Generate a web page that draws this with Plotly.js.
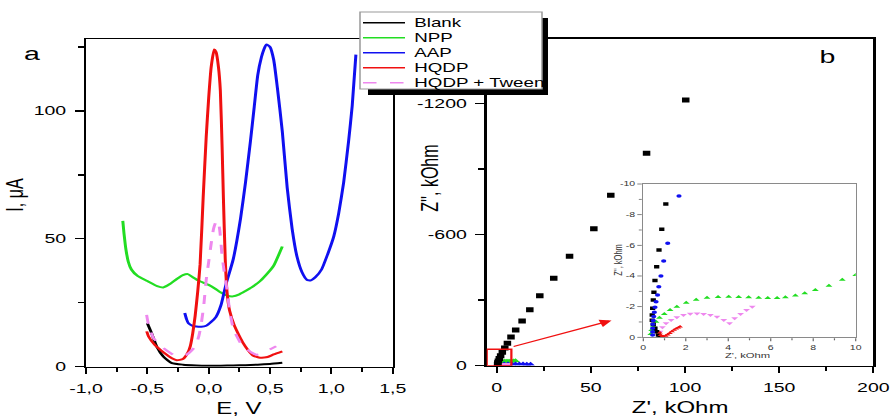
<!DOCTYPE html>
<html><head><meta charset="utf-8">
<script src="https://cdn.plot.ly/plotly-3.0.1.min.js"></script>
<style>
html,body{margin:0;padding:0;background:#fff;overflow:hidden;width:890px;height:418px}
#wrap{width:890px;height:418px;overflow:hidden}
#chart{width:593px;height:418px;transform:scaleX(1.50084);transform-origin:0 0}
</style>
</head><body><div id="wrap"><div id="chart"></div></div>
<script>
// ---------- DATA: panel a (voltammograms) ----------
const seriesNames = ["Blank", "NPP", "AAP", "HQDP", "HQDP + Tween"];

const eBlank = [-0.50,-0.465,-0.424,-0.37,-0.30,-0.21,-0.10,0.0,0.1,0.2,0.3,0.4,0.5,0.6];
const iBlank = [17,13.1,7.9,4.0,1.4,0.8,0.5,0.4,0.4,0.5,0.6,0.8,1.1,1.5];

const eNpp = [-0.70,-0.69,-0.675,-0.655,-0.63,-0.58,-0.50,-0.42,-0.37,-0.32,-0.26,-0.21,-0.17,-0.13,-0.08,0.0,0.05,0.10,0.15,0.20,0.25,0.30,0.35,0.42,0.48,0.53,0.60];
const iNpp = [57,52,46,41,38,35.5,33.5,31.5,31,32.2,34.3,35.8,36.2,35,33.6,32,30.6,29,27.8,27.5,28.3,29.6,31,33.5,36.5,39.5,47];

const eAap = [-0.195,-0.18,-0.165,-0.13,-0.10,-0.06,-0.02,0.02,0.06,0.10,0.14,0.20,0.26,0.30,0.34,0.37,0.40,0.43,0.45,0.47,0.50,0.53,0.56,0.60,0.64,0.68,0.72,0.76,0.80,0.83,0.87,0.92,0.97,1.02,1.06,1.10,1.14,1.17,1.20];
const iAap = [21,18.5,17,16,15.7,15.6,16,17.5,19.5,24,32,42,58,72,88,101,114,121,124,126,125,120,109,92,70,54,43,37,34,33.7,35,38,44,51,60,72,88,102,122];

const eHqdp = [-0.505,-0.49,-0.44,-0.36,-0.30,-0.26,-0.21,-0.17,-0.15,-0.13,-0.11,-0.09,-0.07,-0.045,-0.02,0.0,0.02,0.045,0.06,0.08,0.095,0.11,0.12,0.135,0.15,0.17,0.21,0.25,0.28,0.32,0.36,0.42,0.48,0.53,0.60];
const iHqdp = [13.8,11.8,8.6,5.3,3.3,2.5,3.0,5.5,8,13,20,29,40,66,90,105,117,124,123,117,108,85,66,42,29,22,16,12,9.3,6.5,4.4,3.5,3.8,4.8,6.0];

const eTween = [-0.506,-0.49,-0.45,-0.37,-0.30,-0.26,-0.18,-0.11,-0.08,-0.06,-0.04,-0.02,0.0,0.02,0.04,0.06,0.075,0.09,0.11,0.13,0.15,0.17,0.20,0.23,0.27,0.31,0.35,0.39,0.43,0.47,0.51,0.55];
const iTween = [20.3,16.4,11.2,7.3,5,4,4.7,7.9,12,17,24,34,41,48,54,56.7,57,53.5,43,36,30,22.2,15,11.8,8.5,6.9,5.5,4.7,5,6,7,8];

// ---------- DATA: panel b (Nyquist, main view) ----------
const zBlankRe = [100.4,79.6,60.6,51.6,38.7,30.3,22.9,17.6,13.5,10.1,7.6,5.7,4.3,3.0,2.1,1.4,0.9,0.6,0.5];
const zBlankIm = [-1215,-971,-779,-626,-501,-400,-320,-256,-204,-163,-131,-103,-81,-61,-46,-33,-22,-13,-6];
const zNppRe = [0.5,1,1.5,2,3,4,5,6,7,8,9,10];
const zNppIm = [-4,-9,-13,-16,-19,-20,-20,-20,-20,-20,-21,-23];
const zAapRe = [0.5,1,2,4,6,8,10,12,14,16,18];
const zAapIm = [-3,-5,-7,-8,-8,-8,-8,-8,-8,-7,-7];
const zHqdpRe = [0.8,1.0,1.3,1.7];
const zHqdpIm = [-0.3,-0.1,-0.4,-0.7];
const zTweenRe = [0.5,1,2,3,4,5,6];
const zTweenIm = [-2,-4,-6,-6,-5,-6,-7];

// ---------- DATA: panel b inset (0–10 kOhm) ----------
const inBlankRe = [1.06,0.87,0.74,0.63,0.55,0.50,0.47,0.44,0.42,0.42,0.47,0.55,0.63,0.71,0.79];
const inBlankIm = [-8.7,-7.05,-5.7,-4.6,-3.7,-2.94,-2.43,-1.89,-1.45,-1.12,-0.85,-0.59,-0.37,-0.15,-0.02];
const inNppRe = [0.35,0.39,0.47,0.60,0.76,0.99,1.26,1.58,2.02,2.49,3.0,3.52,4.02,4.49,4.96,5.43,5.86,6.3,6.69,7.16,7.6,8.1,8.74,9.37,10.0];
const inNppIm = [-0.22,-0.48,-0.76,-1.02,-1.28,-1.52,-1.78,-2.0,-2.26,-2.45,-2.58,-2.63,-2.65,-2.63,-2.61,-2.58,-2.56,-2.56,-2.61,-2.72,-2.87,-3.08,-3.37,-3.75,-4.07];
const inAapRe = [0.44,0.44,0.44,0.45,0.47,0.49,0.52,0.55,0.60,0.67,0.73,0.83,0.96,1.15,1.68];
const inAapIm = [-0.15,-0.37,-0.59,-0.85,-1.09,-1.35,-1.63,-1.96,-2.32,-2.76,-3.3,-4.0,-4.98,-6.13,-9.22];
const inHqdpRe = [0.78,0.82,0.88,0.95,1.05,1.15,1.25,1.35,1.45,1.55,1.65,1.73];
const inHqdpIm = [-0.3,-0.15,-0.05,-0.05,-0.1,-0.18,-0.28,-0.38,-0.48,-0.56,-0.63,-0.69];
const inTweenRe = [0.71,0.79,0.9,1.07,1.31,1.58,1.89,2.21,2.53,2.84,3.16,3.47,3.79,4.06,4.3,4.58,4.86,5.13];
const inTweenIm = [-0.15,-0.37,-0.65,-0.91,-1.13,-1.3,-1.45,-1.54,-1.56,-1.52,-1.45,-1.34,-1.13,-0.91,-1.24,-1.52,-1.78,-2.0];

// ---------- tick labels ----------
const eTickVals = [-1.0,-0.5,0.0,0.5,1.0,1.5];
const eTickText = ["-1,0","-0,5","0,0","0,5","1,0","1,5"];
const iTickVals = [0,50,100];
const iTickText = ["0","50","100"];
const zReTickVals = [0,50,100,150,200];
const zReTickText = ["0","50","100","150","200"];
const zImTickVals = [0,-600,-1200];
const zImTickText = ["0","-600","-1200"];
const inReTickVals = [0,2,4,6,8,10];
const inReTickText = ["0","2","4","6","8","10"];
const inImTickVals = [0,-2,-4,-6,-8,-10];
const inImTickText = ["0","-2","-4","-6","-8","-10"];

// ---------- styling ----------
const FONT = "Liberation Sans, Arial, sans-serif";
const colors = ["#000000", "#22dd22", "#1010f0", "#f01010", "#ee88ee"];
const W = 593, H = 418, REFW = 890;
const px = v => v / REFW;
const py = v => 1 - v / H;

const traces = [];
// panel a lines
const aX = [eBlank, eNpp, eAap, eHqdp, eTween];
const aY = [iBlank, iNpp, iAap, iHqdp, iTween];
for (let k = 0; k < 5; k++) {
  traces.push({
    x: aX[k], y: aY[k], type: "scatter", mode: "lines", name: seriesNames[k],
    xaxis: "x", yaxis: "y", showlegend: false, line: {color: colors[k], width: 2, shape: "spline", smoothing: 0.5, dash: k === 4 ? "dash" : "solid"}
  });
}
// panel b main markers (draw black last)
const bX = [zBlankRe, zNppRe, zAapRe, zHqdpRe, zTweenRe];
const bY = [zBlankIm, zNppIm, zAapIm, zHqdpIm, zTweenIm];
const bSym = ["square", "triangle-up", "triangle-up", "circle", "triangle-down"];
const bSize = [5, 5, 5, 3, 5];
for (const k of [1, 2, 4, 3, 0]) {
  traces.push({
    x: bX[k], y: bY[k], type: "scatter", mode: "markers", name: seriesNames[k],
    xaxis: "x2", yaxis: "y2", showlegend: false, cliponaxis: true,
    marker: {color: colors[k], symbol: bSym[k], size: bSize[k]}
  });
}
// inset markers
const cX = [inBlankRe, inNppRe, inAapRe, inHqdpRe, inTweenRe];
const cY = [inBlankIm, inNppIm, inAapIm, inHqdpIm, inTweenIm];
const cSym = ["square", "triangle-up", "circle", "triangle-up", "triangle-down"];
const cSize = [3.5, 4, 3.5, 3.5, 4];
for (const k of [1, 4, 0, 2, 3]) {
  traces.push({
    x: cX[k], y: cY[k], type: "scatter", mode: "markers", name: seriesNames[k],
    xaxis: "x3", yaxis: "y3", showlegend: false,
    marker: {color: colors[k], symbol: cSym[k], size: cSize[k]}
  });
}

const axBase = {
  showline: true, linecolor: "#000", linewidth: 1.6, mirror: true,
  ticks: "outside", ticklen: 6, tickwidth: 1.3, tickcolor: "#000",
  showgrid: false, zeroline: false, fixedrange: true,
  tickfont: {family: FONT, size: 13, color: "#000"}, ticklabelstandoff: 3
};
const insetBase = {
  showline: true, linecolor: "#8a8a8a", linewidth: 1, mirror: true,
  ticks: "outside", ticklen: 3, tickwidth: 0.8, tickcolor: "#666",
  showgrid: false, zeroline: false, fixedrange: true,
  tickfont: {family: FONT, size: 7, color: "#333"}
};

function txt(text, x, y, size, extra) {
  return Object.assign({text: text, xref: "paper", yref: "paper", x: px(x), y: py(y),
    xanchor: "center", yanchor: "middle", showarrow: false,
    font: {size: size, family: FONT, color: "#000"}}, extra || {});
}

const layout = {
  width: W, height: H, margin: {l: 0, r: 0, t: 0, b: 0},
  paper_bgcolor: "#fff", plot_bgcolor: "#fff", showlegend: false,
  font: {family: FONT, color: "#000"},
  xaxis: Object.assign({}, axBase, {domain: [px(86), px(392.7)], anchor: "y", range: [-1, 1.5],
    tickmode: "array", tickvals: eTickVals, ticktext: eTickText,
    minor: {ticks: "outside", ticklen: 4, tickwidth: 1.3, tickcolor: "#000", tickvals: [-0.75,-0.25,0.25,0.75,1.25], showgrid: false}}),
  yaxis: Object.assign({}, axBase, {domain: [py(366.7), py(39.3)], anchor: "x", range: [0, 128],
    tickmode: "array", tickvals: iTickVals, ticktext: iTickText,
    minor: {ticks: "outside", ticklen: 4, tickwidth: 1.3, tickcolor: "#000", tickvals: [25,75,125], showgrid: false}}),
  xaxis2: Object.assign({}, axBase, {domain: [px(486.7), px(873.3)], anchor: "y2", range: [-5.3, 200],
    tickmode: "array", tickvals: zReTickVals, ticktext: zReTickText,
    minor: {ticks: "outside", ticklen: 4, tickwidth: 1.3, tickcolor: "#000", tickvals: [25,75,125,175], showgrid: false}}),
  yaxis2: Object.assign({}, axBase, {domain: [py(365.7), py(39)], anchor: "x2", range: [0, -1494],
    tickmode: "array", tickvals: zImTickVals, ticktext: zImTickText,
    minor: {ticks: "outside", ticklen: 4, tickwidth: 1.3, tickcolor: "#000", tickvals: [-300,-900], showgrid: false}}),
  xaxis3: Object.assign({}, insetBase, {domain: [px(643.3), px(855.7)], anchor: "y3", range: [0, 10],
    tickmode: "array", tickvals: inReTickVals, ticktext: inReTickText,
    minor: {ticks: "outside", ticklen: 2, tickwidth: 0.8, tickcolor: "#666", tickvals: [1,3,5,7,9], showgrid: false}}),
  yaxis3: Object.assign({}, insetBase, {domain: [py(337.3), py(184)], anchor: "x3", range: [0, -10],
    tickmode: "array", tickvals: inImTickVals, ticktext: inImTickText,
    minor: {ticks: "outside", ticklen: 2, tickwidth: 0.8, tickcolor: "#666", tickvals: [-1,-3,-5,-7,-9], showgrid: false}}),
  shapes: [
    {type: "rect", xref: "x2", yref: "y2", x0: -5.3, x1: 7.8, y0: 0, y1: -75, line: {color: "#f01010", width: 1.5}, layer: "above"},
    {type: "rect", xref: "paper", yref: "paper", x0: px(368), x1: px(548), y0: py(95), y1: py(18), fillcolor: "#000", line: {width: 0}, layer: "above"},
    {type: "rect", xref: "paper", yref: "paper", x0: px(360), x1: px(542), y0: py(89), y1: py(12), fillcolor: "#fff", line: {color: "#999", width: 1}, layer: "above"}
  ],
  annotations: [
    txt("a", 33, 53, 19),
    txt("b", 828, 57, 19),
    txt("I, μA", 16, 195, 16, {textangle: -90}),
    txt("E, V", 239, 408, 16),
    txt("Z'', kOhm", 429, 178, 16, {textangle: -90}),
    txt("Z', kOhm", 680, 407, 16),
    txt("Z', kOhm", 748, 355, 7.5, {font: {size: 7.5, family: FONT, color: "#333"}}),
    txt("Z'', kOhm", 618, 260, 7.5, {textangle: -90, font: {size: 7.5, family: FONT, color: "#333"}}),
    {text: "", xref: "x2", yref: "y2", axref: "x2", ayref: "y2", x: 61, y: -207, ax: 7.8, ay: -85,
     showarrow: true, arrowhead: 2, arrowsize: 1.2, arrowwidth: 1.3, arrowcolor: "#f01010"}
  ]
};

// manual legend entries
const legY = [22.7, 37.7, 52.7, 67.7, 82.7];
for (let k = 0; k < 5; k++) {
  layout.shapes.push({type: "line", xref: "paper", yref: "paper", x0: px(363), x1: px(405), y0: py(legY[k]), y1: py(legY[k]),
    line: {color: colors[k], width: 1.5, dash: k === 4 ? "dash" : "solid"}, layer: "above"});
  layout.annotations.push(txt(seriesNames[k], 411, legY[k], 12.5, {xanchor: "left"}));
}

Plotly.newPlot("chart", traces, layout, {displayModeBar: false, staticPlot: true});
</script></body></html>
